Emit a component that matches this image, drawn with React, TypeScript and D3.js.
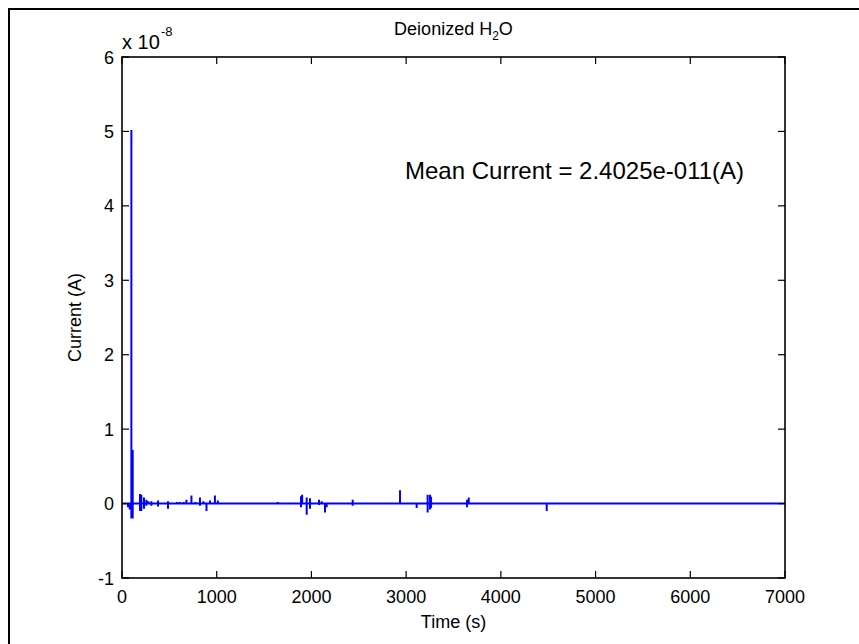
import React from "react";
import * as d3 from "d3";

const xTicks = [0, 1000, 2000, 3000, 4000, 5000, 6000, 7000];
const yTicks = [-1, 0, 1, 2, 3, 4, 5, 6];

// spikes in current (units of 1e-8 A) at given times (s)
const spikeTime = [63, 81, 99, 113, 190, 204, 232, 257, 278, 310, 380, 486, 580, 610, 650, 680, 733, 775, 823, 860, 892, 929, 981, 1012, 1580, 1644, 1720, 1780, 1860, 1890, 1902, 1950, 1985, 2080, 2108, 2143, 2161, 2436, 2935, 3111, 3227, 3252, 3263, 3442, 3643, 3661, 4340, 4484, 5258, 5343, 5765, 6208, 6557];
const spikeHigh = [0.0, 0.0, 5.02, 0.72, 0.13, 0.12, 0.08, 0.05, 0.03, 0.03, 0.04, 0.03, 0.02, 0.02, 0.02, 0.05, 0.11, 0.02, 0.08, 0.03, 0.0, 0.04, 0.11, 0.04, 0.01, 0.02, 0.01, 0.01, 0.01, 0.1, 0.12, 0.08, 0.07, 0.05, 0.03, 0.0, 0.0, 0.05, 0.18, 0.0, 0.12, 0.12, 0.09, 0.01, 0.05, 0.08, 0.01, 0.0, 0.005, 0.01, 0.003, 0.005, 0.003];
const spikeLow = [-0.05, -0.08, -0.2, -0.2, -0.1, -0.1, -0.07, -0.03, 0.0, -0.03, -0.04, -0.07, 0.0, 0.0, 0.0, 0.0, 0.0, 0.0, -0.03, 0.0, -0.1, 0.0, 0.0, 0.0, 0.0, 0.0, 0.0, 0.0, 0.0, -0.05, 0.0, -0.15, -0.07, -0.02, 0.0, -0.12, -0.05, -0.03, 0.0, -0.06, -0.12, -0.08, -0.06, 0.0, -0.05, 0.0, 0.0, -0.1, 0.0, 0.0, 0.0, 0.0, 0.0];
const tStart = 0;
const tEnd = 7000;

const W = 859;
const H = 644;
const L = 122, R = 785, T = 57, B = 578;
const FONT = "'Liberation Sans', Arial, sans-serif";

export default function App() {
  const x = d3.scaleLinear().domain([0, 7000]).range([L, R]);
  const y = d3.scaleLinear().domain([-1, 6]).range([B, T]);

  const pts: [number, number][] = [[tStart, 0]];
  spikeTime.forEach((t, i) => {
    pts.push([t, 0], [t, spikeHigh[i]], [t, spikeLow[i]], [t, 0]);
  });
  pts.push([tEnd, 0]);
  const line = d3.line<[number, number]>().x((d) => x(d[0])).y((d) => y(d[1]));

  const tl = 7;
  return (
    <svg width={W} height={H} style={{ position: "absolute", left: 0, top: 0, background: "#fff" }} fontFamily={FONT}>
      <rect x={0} y={0} width={W} height={H} fill="#fff" />
      <rect x={9} y={9} width={W + 50} height={H + 50} fill="none" stroke="#000" strokeWidth={2} />
      <defs>
        <clipPath id="pa">
          <rect x={L} y={T} width={R - L} height={B - T} />
        </clipPath>
      </defs>
      <path d={line(pts) || ""} fill="none" stroke="#0000ff" strokeWidth={2} clipPath="url(#pa)" />
      {xTicks.map((t) => (
        <g key={"x" + t}>
          <line x1={x(t)} x2={x(t)} y1={B} y2={B - tl} stroke="#000" strokeWidth={1.2} />
          <line x1={x(t)} x2={x(t)} y1={T} y2={T + tl} stroke="#000" strokeWidth={1.2} />
          <text x={x(t)} y={603} textAnchor="middle" fontSize={18} fill="#000">{t}</text>
        </g>
      ))}
      {yTicks.map((t) => (
        <g key={"y" + t}>
          <line x1={L} x2={L + tl} y1={y(t)} y2={y(t)} stroke="#000" strokeWidth={1.2} />
          <line x1={R} x2={R - tl} y1={y(t)} y2={y(t)} stroke="#000" strokeWidth={1.2} />
          <text x={114} y={y(t) + 6.5} textAnchor="end" fontSize={18} fill="#000">{t}</text>
        </g>
      ))}
      <rect x={L} y={T} width={R - L} height={B - T} fill="none" stroke="#000" strokeWidth={1.6} />
      <text x={122} y={49} fontSize={20} fill="#000">x 10</text>
      <text x={161} y={36} fontSize={13} fill="#000">-8</text>
      <text x={(L + R) / 2} y={35} textAnchor="middle" fontSize={18} fill="#000">
        Deionized H<tspan fontSize={12} dy={5}>2</tspan><tspan dy={-5}>O</tspan>
      </text>
      <text x={(L + R) / 2} y={628} textAnchor="middle" fontSize={18} fill="#000">Time (s)</text>
      <text transform={`translate(81, ${(T + B) / 2}) rotate(-90)`} textAnchor="middle" fontSize={18} fill="#000">Current (A)</text>
      <text x={405} y={179} fontSize={24} fill="#000">Mean Current = 2.4025e-011(A)</text>
    </svg>
  );
}
